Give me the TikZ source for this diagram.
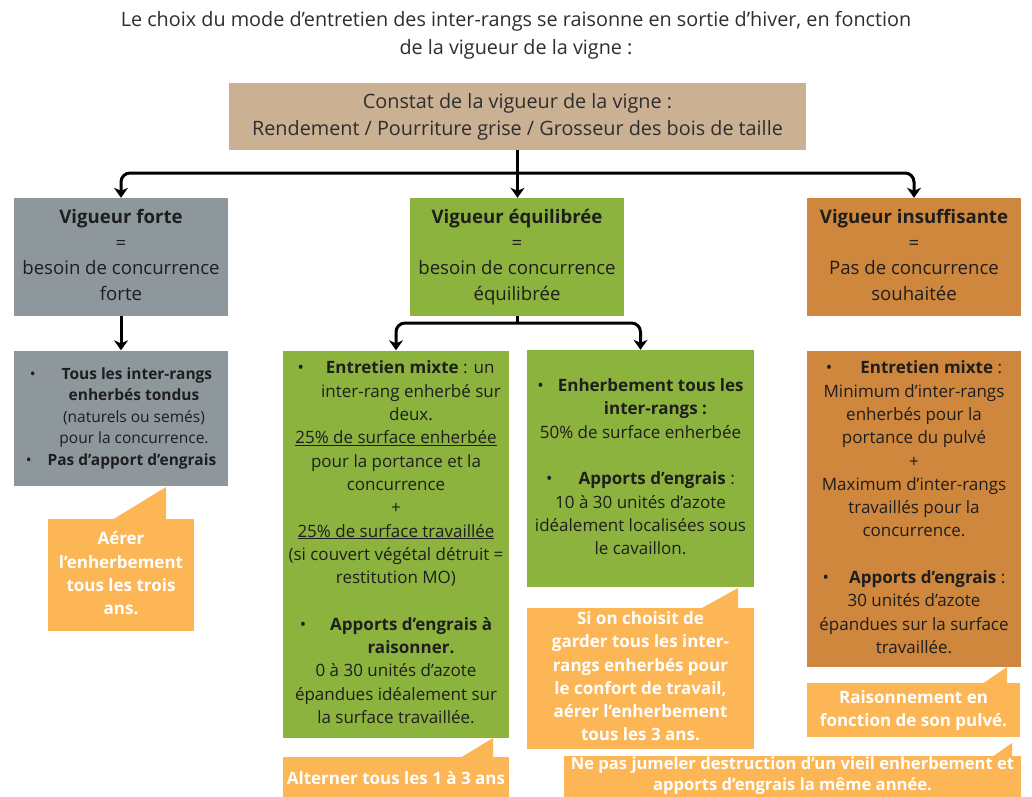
\documentclass[tikz,border=0pt]{standalone}
\usepackage{fontspec}
\setmainfont{Open Sans}
\usetikzlibrary{arrows.meta}
\definecolor{tanc}{HTML}{CBB193}
\definecolor{greyc}{HTML}{8E989C}
\definecolor{greenc}{HTML}{8DB33F}
\definecolor{orangec}{HTML}{CE873D}
\definecolor{callc}{HTML}{FDB655}
\definecolor{txt}{HTML}{1E1E1E}
\definecolor{hdr}{HTML}{2E2E2E}
\newcommand{\bl}[1]{•\hspace{#1}}
\begin{document}
\begin{tikzpicture}[x=1pt,y=-1pt,
  box/.style={draw=none, inner sep=0pt, align=center, text=txt},
  vig/.style={box, minimum width=214pt, minimum height=118pt, font=\fontsize{18.6}{25.4}\selectfont},
  body/.style={font=\fontsize{17}{23.3}\selectfont},
  callout/.style={box, fill=callc, text=white, font=\fontsize{17}{23.3}\selectfont\bfseries},
  tail/.style={fill=callc},
  wire/.style={line width=3pt},
  conn/.style={line width=3pt, -{Stealth[length=10pt,width=14pt,inset=3pt]}},
  ]
\useasboundingbox[fill=white] (0,0) rectangle (1032,796);

% title
\node[box, text=hdr, font=\fontsize{19.8}{28}\selectfont] (T) at (516,35)
  {\strut Le choix du mode d’entretien des inter-rangs se raisonne en sortie d’hiver, en fonction\\de la vigueur de la vigne :\strut};

% header
\node[box, fill=tanc, text=hdr, minimum width=577pt, minimum height=67pt,
      font=\fontsize{19.8}{27}\selectfont] (H) at (517.5,116.5)
  {\strut Constat de la vigueur de la vigne :\\Rendement / Pourriture grise / Grosseur des bois de taille\strut};

% vigueur boxes
\node[vig, fill=greyc] (F) at (121,257)
  {\strut\textbf{Vigueur forte}\\=\\besoin de concurrence\\forte\strut};
\node[vig, fill=greenc] (E) at (517,257)
  {\strut\textbf{Vigueur équilibrée}\\=\\besoin de concurrence\\équilibrée\strut};
\node[vig, fill=orangec] (I) at (914,257)
  {\strut\textbf{Vigueur insuffisante}\\=\\Pas de concurrence\\souhaitée\strut};

% content boxes
\node[box, fill=greyc, minimum width=214pt, minimum height=135pt,
      font=\fontsize{15.5}{21.5}\selectfont] (G) at (121,418)
  {\strut\bl{26pt}\textbf{Tous les inter-rangs}\\
   \hspace*{26pt}\textbf{enherbés tondus}\\
   \hspace*{26pt}(naturels ou semés)\\
   \hspace*{26pt}pour la concurrence.\\
   \bl{16pt}\textbf{Pas d’apport d’engrais}\strut};

\node[box, body, fill=greenc, minimum width=226pt, minimum height=387pt] (A) at (396,544)
  {\strut\bl{22pt}\textbf{Entretien mixte} : un\\
   \hspace*{30pt}inter-rang enherbé sur\\
   \hspace*{30pt}deux.\\
   \underline{25\% de surface enherbée}\\
   pour la portance et la\\
   concurrence\\
   +\\
   \underline{25\% de surface travaillée}\\
   (si couvert végétal détruit =\\
   restitution MO)\\[23.3pt]
   \bl{24pt}\textbf{Apports d’engrais à}\\
   \hspace*{30pt}\textbf{raisonner.}\\
   0 à 30 unités d’azote\\
   épandues idéalement sur\\
   la surface travaillée.\strut};

\node[box, body, fill=greenc, minimum width=227pt, minimum height=237pt] (B) at (640.5,468.5)
  {\strut\bl{14pt}\textbf{Enherbement tous les}\\
   \hspace*{30pt}\textbf{inter-rangs :}\\
   50\% de surface enherbée\\[23.3pt]
   \bl{26pt}\textbf{Apports d’engrais} :\\
   10 à 30 unités d’azote\\
   idéalement localisées sous\\
   le cavaillon.\strut};

\node[box, body, fill=orangec, minimum width=214pt, minimum height=316pt] (O) at (914,509)
  {\strut\bl{28pt}\textbf{Entretien mixte} :\\
   Minimum d’inter-rangs\\
   enherbés pour la\\
   portance du pulvé\\
   +\\
   Maximum d’inter-rangs\\
   travaillés pour la\\
   concurrence.\\[23.3pt]
   \bl{20pt}\textbf{Apports d’engrais} :\\
   30 unités d’azote\\
   épandues sur la surface\\
   travaillée.\strut};

% callouts
\fill[tail] (112,520) -- (166,487) -- (166,520) -- cycle;
\node[callout, minimum width=146pt, minimum height=112pt] (C1) at (121,575)
  {\strut Aérer\\l’enherbement\\tous les trois\\ans.\strut};

\fill[tail] (460,758) -- (493,738) -- (493,758) -- cycle;
\node[callout, minimum width=226pt, minimum height=46pt] (C2) at (396,780)
  {\strut Alterner tous les 1 à 3 ans\strut};

\fill[tail] (702,608) -- (738,588) -- (738,608) -- cycle;
\node[callout, minimum width=227pt, minimum height=141pt] (C3) at (640.5,678)
  {\strut Si on choisit de\\garder tous les inter-\\rangs enherbés pour\\le confort de travail,\\aérer l’enherbement\\tous les 3 ans.\strut};

\fill[tail] (982,684) -- (1007,667) -- (1007,684) -- cycle;
\node[callout, minimum width=213pt, minimum height=54pt] (C4) at (913.5,710)
  {\strut Raisonnement en\\fonction de son pulvé.\strut};

\fill[tail] (992,757) -- (1012,743) -- (1012,757) -- cycle;
\node[callout, minimum width=457pt, minimum height=46pt] (C5) at (792.5,779) {};
\node[callout, fill=none, font=\fontsize{16.6}{21}\selectfont\bfseries] (C5t) at (792.5,776)
  {\strut Ne pas jumeler destruction d’un vieil enherbement et\\apports d’engrais la même année.\strut};

% connectors
\coordinate (j1) at (517.5,173);
\draw[conn] (H.south) -- (H.south |- E.north);
\draw[conn, rounded corners=9pt] (j1) -| (F.north);
\draw[conn, rounded corners=9pt] (j1) -| (I.north);
\draw[conn] (F.south) -- (G.north -| F.south);
\coordinate (j2) at (517,323);
\draw[wire] (E.south) -- (j2);
\draw[conn, rounded corners=9pt] (j2) -| (A.north);
\draw[conn, rounded corners=9pt] (j2) -| (B.north);
\end{tikzpicture}
\end{document}
